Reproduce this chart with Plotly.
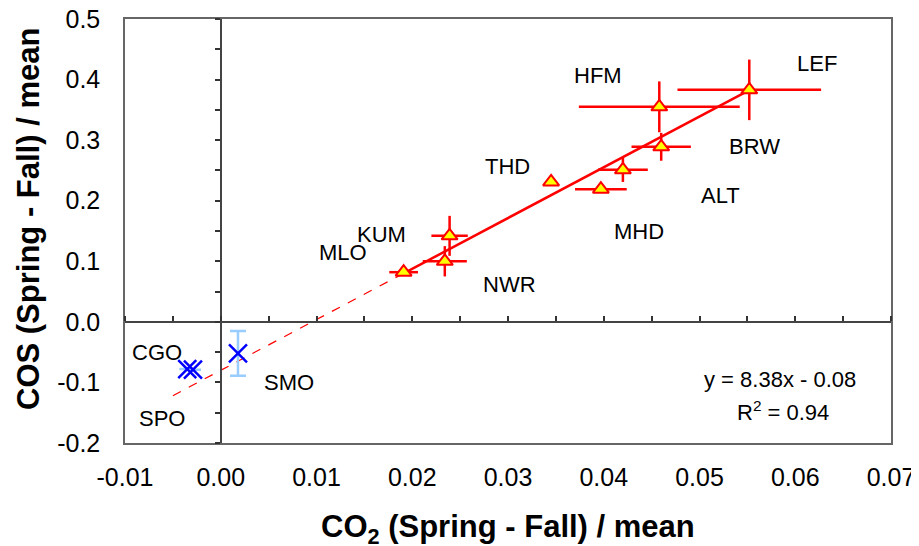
import plotly.graph_objects as go

# ---- data ----
red_sites = ["LEF", "HFM", "BRW", "ALT", "MHD", "THD", "KUM", "NWR", "MLO"]
red_co2 = [0.0552, 0.0458, 0.0460, 0.0420, 0.0397, 0.0345, 0.0239, 0.0234, 0.0191]
red_cos = [0.383, 0.355, 0.289, 0.251, 0.219, 0.231, 0.142, 0.100, 0.082]
red_co2_err = [0.0075, 0.0084, 0.0031, 0.0026, 0.0027, 0.0, 0.0019, 0.0023, 0.0015]
red_cos_err = [0.050, 0.042, 0.023, 0.020, 0.0, 0.0, 0.033, 0.025, 0.006]

blue_sites = ["CGO", "SPO", "SMO"]
blue_co2 = [-0.0035, -0.0029, 0.0018]
blue_cos = [-0.078, -0.079, -0.052]
blue_cos_err = [0.0, 0.0, 0.037]

label_text = ["LEF", "HFM", "BRW", "THD", "ALT", "MHD", "KUM", "MLO", "NWR", "CGO", "SPO", "SMO"]
label_x = [0.0623, 0.0394, 0.0557, 0.0299, 0.0522, 0.0437, 0.0168, 0.0128, 0.0302, -0.0067, -0.0061, 0.0071]
label_y = [0.427, 0.4075, 0.289, 0.257, 0.208, 0.150, 0.145, 0.114, 0.0625, -0.0514, -0.1588, -0.0993]

fit_slope = 8.38
fit_intercept = -0.08
fit_r2 = 0.94
fit_solid_x = [0.0191, 0.0556]
fit_dash_x = [-0.005, 0.0191]

x_ticks = [-0.01, 0.00, 0.01, 0.02, 0.03, 0.04, 0.05, 0.06, 0.07]
x_ticklabels = ["-0.01", "0.00", "0.01", "0.02", "0.03", "0.04", "0.05", "0.06", "0.07"]
y_ticks = [-0.2, -0.1, 0.0, 0.1, 0.2, 0.3, 0.4, 0.5]
y_ticklabels = ["-0.2", "-0.1", "0.0", "0.1", "0.2", "0.3", "0.4", "0.5"]

x_title = "<b>CO<sub>2</sub> (Spring - Fall) / mean</b>"
y_title = "<b>COS (Spring - Fall) / mean</b>"

XR = [-0.01, 0.07]
YR = [-0.2, 0.5]
FONT = "Liberation Sans, Arial, sans-serif"

fig = go.Figure()

# regression line
fig.add_trace(go.Scatter(
    x=fit_dash_x, y=[fit_slope * v + fit_intercept for v in fit_dash_x],
    mode="lines", line=dict(color="#FF0000", width=1.2, dash="dash"),
    showlegend=False, hoverinfo="skip"))
fig.add_trace(go.Scatter(
    x=fit_solid_x, y=[fit_slope * v + fit_intercept for v in fit_solid_x],
    mode="lines", line=dict(color="#FF0000", width=2.5),
    showlegend=False, hoverinfo="skip"))

# red triangles with error bars
fig.add_trace(go.Scatter(
    x=red_co2, y=red_cos, mode="markers",
    marker=dict(symbol="triangle-up", size=14, color="#FFFF00",
                line=dict(color="#FF0000", width=2)),
    error_x=dict(type="data", array=red_co2_err, color="#FF0000", thickness=2.5, width=0),
    error_y=dict(type="data", array=red_cos_err, color="#FF0000", thickness=2.5, width=0),
    text=red_sites, showlegend=False))

# blue crosses
fig.add_trace(go.Scatter(
    x=blue_co2, y=blue_cos, mode="markers",
    marker=dict(symbol="x-thin", size=18, color="#0000FF",
                line=dict(color="#0000FF", width=2.5)),
    error_y=dict(type="data", array=blue_cos_err, color="#99CCFF", thickness=2.5, width=8),
    text=blue_sites, showlegend=False))

# dummy trace for the zero-crossing axes
fig.add_trace(go.Scatter(x=[None], y=[None], xaxis="x2", yaxis="y2",
                         showlegend=False, hoverinfo="skip"))

# station labels
for t, x, y in zip(label_text, label_x, label_y):
    fig.add_annotation(x=x, y=y, text=t, showarrow=False,
                       font=dict(family=FONT, size=22, color="black"))

fig.add_annotation(x=0.0584, y=-0.0944, text="y = %.2fx - %.2f" % (fit_slope, -fit_intercept),
                   showarrow=False, font=dict(family=FONT, size=22, color="black"))
fig.add_annotation(x=0.0587, y=-0.147, text="R<sup>2</sup> = %.2f" % fit_r2,
                   showarrow=False, font=dict(family=FONT, size=22, color="black"))

# axis titles
fig.add_annotation(xref="paper", yref="paper", x=0.5, y=0, yshift=-86,
                   xanchor="center", yanchor="middle", text=x_title, showarrow=False,
                   font=dict(family=FONT, size=31, color="black"))
fig.add_annotation(xref="paper", yref="paper", x=0, y=0.5, xshift=-97, yshift=12,
                   xanchor="center", yanchor="middle", textangle=-90, text=y_title,
                   showarrow=False, font=dict(family=FONT, size=31, color="black"))

# the page body adds an 8 px offset, so the figure is 8 px smaller on each leading side
fig.update_layout(
    width=911, height=538,
    margin=dict(l=117, r=28, t=11, b=103, autoexpand=False),
    paper_bgcolor="white", plot_bgcolor="white",
    font=dict(family=FONT, color="black"),
    xaxis=dict(range=XR, tickvals=x_ticks, ticktext=x_ticklabels, automargin=False,
               showgrid=False, zeroline=False, showline=True, mirror=True,
               linecolor="#666666", linewidth=1.5, ticks="", ticklabelstandoff=11,
               ticklabeloverflow="allow",
               tickfont=dict(size=25, family=FONT)),
    yaxis=dict(range=YR, tickvals=y_ticks, ticktext=y_ticklabels, automargin=False,
               showgrid=False, zeroline=False, showline=True, mirror=True,
               linecolor="#666666", linewidth=1.5, ticks="", ticklabelstandoff=18,
               ticklabeloverflow="allow",
               tickfont=dict(size=25, family=FONT)),
    xaxis2=dict(overlaying="x", anchor="free", position=0.2/0.7, side="top",
                range=XR, dtick=0.005, tick0=0, ticks="outside", ticklen=5,
                tickcolor="#333333", tickwidth=1.5, automargin=False,
                showticklabels=False, showgrid=False, zeroline=False,
                showline=True, linecolor="#444444", linewidth=1.5),
    yaxis2=dict(overlaying="y", anchor="free", position=0.01/0.08, side="left",
                range=YR, dtick=0.05, tick0=0, ticks="outside", ticklen=5,
                tickcolor="#333333", tickwidth=1.5, automargin=False,
                showticklabels=False, showgrid=False, zeroline=False,
                showline=True, linecolor="#444444", linewidth=1.5),
)

fig.write_html("out.html")
